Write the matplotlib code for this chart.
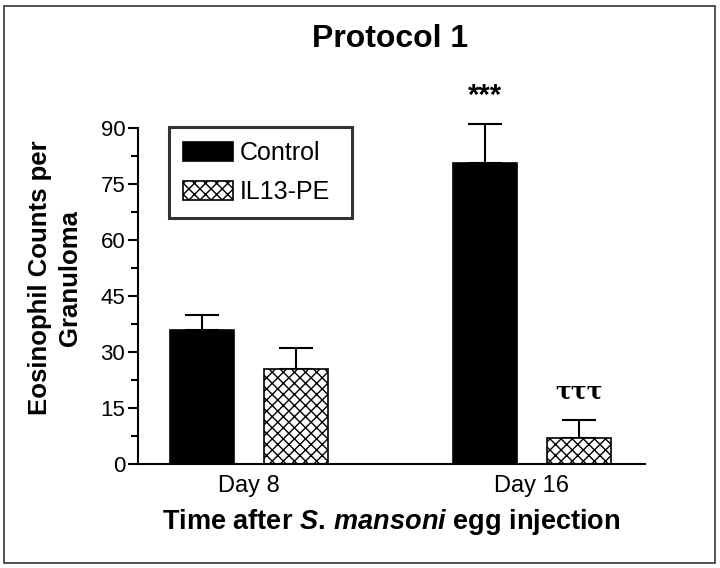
import numpy as np
import matplotlib
matplotlib.use("Agg")
import matplotlib.pyplot as plt
from matplotlib.patches import Rectangle
from matplotlib.ticker import MultipleLocator

# values
days = ["Day 8", "Day 16"]
control_mean = [36.0, 80.5]
control_sem = [4.0, 10.5]
il13_mean = [25.5, 7.0]
il13_sem = [5.5, 4.8]
series_names = ["Control", "IL13-PE"]
yticks = [0, 15, 30, 45, 60, 75, 90]

plt.rcParams["font.family"] = ["Liberation Sans", "DejaVu Sans"]
plt.rcParams["mathtext.fontset"] = "custom"
plt.rcParams["mathtext.it"] = "Liberation Sans:bold:italic"
plt.rcParams["mathtext.rm"] = "Liberation Sans:bold"
plt.rcParams["hatch.linewidth"] = 1.0

fig = plt.figure(figsize=(7.2, 5.68), dpi=100)
ax = fig.add_axes([0.1917, 0.1831, 0.7042, 0.5915])

x = np.arange(len(days))
off = 0.166
w = 0.2265

ax.bar(x - off, control_mean, w, color="black", edgecolor="black",
       linewidth=1.2, label=series_names[0], zorder=2)
ax.bar(x + off, il13_mean, w, color="white", edgecolor="black",
       hatch="xxx", linewidth=1.2, label=series_names[1], zorder=2)

for xs, m, e in [(x - off, control_mean, control_sem),
                 (x + off, il13_mean, il13_sem)]:
    eb = ax.errorbar(xs, m, yerr=[np.zeros(2), e], fmt="none", ecolor="black",
                     elinewidth=1.5, capsize=12, capthick=1.5, zorder=1)
    for art in eb.lines[1] + eb.lines[2]:
        art.set_clip_on(False)

# significance marks
ax.text(x[1] - off, 98.5, "***", ha="center", va="center",
        fontsize=21, fontweight="bold", clip_on=False)
ax.text(x[1] + off, 19.5, "\u03c4\u03c4\u03c4", ha="center", va="center",
        fontsize=17, fontweight="bold", family="DejaVu Serif")

ax.set_xlim(-0.394, 1.401)
ax.set_ylim(0, 90)
ax.set_yticks(yticks)
ax.yaxis.set_minor_locator(MultipleLocator(7.5))
ax.set_xticks(x)
ax.set_xticklabels(days, fontsize=17)
ax.tick_params(axis="x", length=0, pad=8)
ax.tick_params(axis="y", which="major", length=7.2, width=1.5,
               labelsize=16, pad=2)
ax.tick_params(axis="y", which="minor", length=5, width=1.5)

for s in ["top", "right"]:
    ax.spines[s].set_visible(False)
for s in ["left", "bottom"]:
    ax.spines[s].set_linewidth(1.5)

ax.set_xlabel("Time after $\\it{S.\\,mansoni}$ egg injection",
              fontsize=19.5, fontweight="bold", labelpad=7)

leg = ax.legend(loc="upper left", bbox_to_anchor=(0.061, 1.003, 0.361, 0.0),
                mode="expand", fontsize=18, frameon=True, fancybox=False,
                borderaxespad=0, handlelength=2.0, handleheight=0.8,
                handletextpad=0.3, borderpad=0.55, labelspacing=0.6)
leg.get_frame().set_edgecolor("black")
leg.get_frame().set_linewidth(2.2)

fig.text(390 / 720, 1 - 47 / 568, "Protocol 1", ha="center", va="baseline",
         fontsize=23, fontweight="bold")
fig.text(55 / 720, 1 - 278 / 568, "Eosinophil Counts per\nGranuloma",
         rotation=90, ha="center", va="center", fontsize=18.5,
         fontweight="bold", linespacing=1.3, multialignment="center")

fig.patches.append(Rectangle((4 / 720, 5 / 568), 711 / 720, 557 / 568,
                             transform=fig.transFigure, fill=False,
                             edgecolor="#333333", linewidth=1.2))

fig.savefig("out.png", dpi=100)
